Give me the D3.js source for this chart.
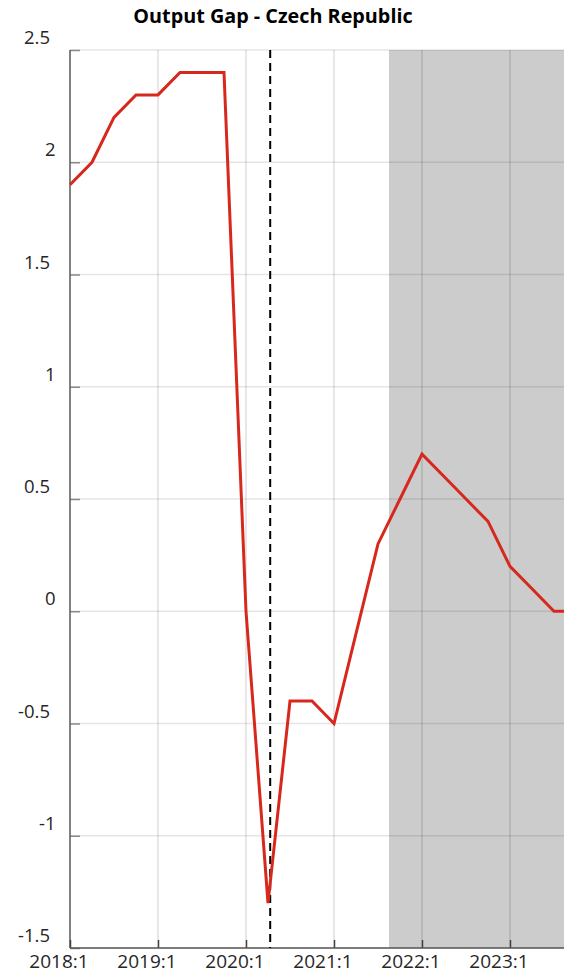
<!DOCTYPE html>
<html><head><meta charset="utf-8">
<script src="https://cdn.jsdelivr.net/npm/d3@7"></script>
<style>body{margin:0;background:#fff}svg{display:block}</style>
</head><body>
<script>
const title = "Output Gap - Czech Republic";
const quarters = ["2018:1","2018:2","2018:3","2018:4","2019:1","2019:2","2019:3","2019:4",
  "2020:1","2020:2","2020:3","2020:4","2021:1","2021:2","2021:3","2021:4",
  "2022:1","2022:2","2022:3","2022:4","2023:1","2023:2","2023:3","2023:4"];
const outputGap = [1.9,2.0,2.2,2.3,2.3,2.4,2.4,2.4,
  0.0,-1.3,-0.4,-0.4,-0.5,-0.1,0.3,0.5,
  0.7,0.6,0.5,0.4,0.2,0.1,0.0,0.0];
const xTickLabels = ["2018:1","2019:1","2020:1","2021:1","2022:1","2023:1"];
const yTicks = [-1.5,-1,-0.5,0,0.5,1,1.5,2,2.5];
const forecastStart = 14.5;   // quarter index where shading begins
const markerQuarter = 9.1;    // dashed vertical marker

const W = 564, H = 973;
const svg = d3.select("body").append("svg").attr("width", W).attr("height", H);
const x = d3.scaleLinear().domain([0, quarters.length - 1]).range([70, 576]);
const y = d3.scaleLinear().domain([-1.5, 2.5]).range([948, 50]);
const font = "'Open Sans', sans-serif";

// shading
svg.append("rect").attr("x", x(forecastStart)).attr("y", y(2.5))
  .attr("width", x(quarters.length - 1) - x(forecastStart)).attr("height", y(-1.5) - y(2.5))
  .attr("fill", "#cccccc");

// gridlines
svg.append("g").selectAll("line").data(yTicks).join("line")
  .attr("x1", x(0)).attr("x2", x(quarters.length - 1))
  .attr("y1", d => y(d)).attr("y2", d => y(d))
  .attr("stroke", "rgba(0,0,0,0.1)").attr("stroke-width", 1.5);
svg.append("g").selectAll("line").data(xTickLabels.slice(1)).join("line")
  .attr("x1", d => x(quarters.indexOf(d))).attr("x2", d => x(quarters.indexOf(d)))
  .attr("y1", y(2.5)).attr("y2", y(-1.5))
  .attr("stroke", "rgba(0,0,0,0.13)").attr("stroke-width", 1.5);

// y axis
const yAxis = d3.axisRight(y).tickValues(yTicks).tickSize(10).tickFormat("");
const gy = svg.append("g").attr("transform", `translate(${x(0)},0)`).call(yAxis);
gy.select(".domain").remove();
gy.selectAll(".tick line").attr("stroke", "#8a8a8a").attr("stroke-width", 1.5);
svg.append("line").attr("x1", x(0)).attr("x2", x(0)).attr("y1", y(2.5)).attr("y2", y(-1.5))
  .attr("stroke", "#595959").attr("stroke-width", 1.5);
svg.append("g").selectAll("text").data(yTicks).join("text")
  .attr("x", d => Number.isInteger(d) ? 55.5 : 50)
  .attr("y", d => y(d) - 6)
  .attr("text-anchor", "end")
  .attr("font-family", font).attr("font-size", 18.5).attr("fill", "#262626")
  .text(d => d3.format("")(d).replace("−", "-"));

// x axis
const xAxis = d3.axisTop(x).tickValues(xTickLabels.map(l => quarters.indexOf(l))).tickSize(8).tickFormat("");
const gx = svg.append("g").attr("transform", `translate(0,${y(-1.5)})`).call(xAxis);
gx.select(".domain").remove();
gx.selectAll(".tick line").attr("stroke", "#404040").attr("stroke-width", 1.5);
svg.append("line").attr("x1", x(0)).attr("x2", W).attr("y1", y(-1.5)).attr("y2", y(-1.5))
  .attr("stroke", "#595959").attr("stroke-width", 1.5);
svg.append("g").selectAll("text").data(xTickLabels).join("text")
  .attr("x", d => x(quarters.indexOf(d)) - 11)
  .attr("y", 968)
  .attr("text-anchor", "middle")
  .attr("font-family", font).attr("font-size", 19).attr("fill", "#262626")
  .text(d => d);

// dashed marker
svg.append("line").attr("x1", x(markerQuarter)).attr("x2", x(markerQuarter))
  .attr("y1", y(2.5)).attr("y2", y(-1.5))
  .attr("stroke", "#000").attr("stroke-width", 2).attr("stroke-dasharray", "8,5");

// series line
const line = d3.line().x((d, i) => x(i)).y(d => y(d));
svg.append("path").datum(outputGap).attr("d", line)
  .attr("fill", "none").attr("stroke", "#d7281e").attr("stroke-width", 3)
  .attr("stroke-linejoin", "miter");

// title
svg.append("text").attr("x", 273).attr("y", 23).attr("text-anchor", "middle")
  .attr("font-family", font).attr("font-weight", "bold").attr("font-size", 19.8)
  .attr("fill", "#000").text(title);
</script>
</body></html>
